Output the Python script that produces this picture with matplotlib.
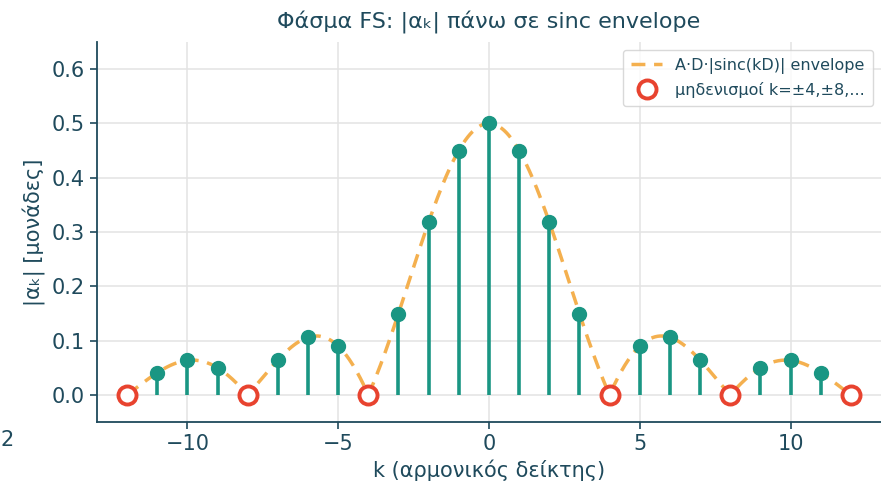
import matplotlib.pyplot as plt
import numpy as np

# Fourier-series line spectrum of a rectangular pulse train
k = np.arange(-11, 12)
ak = [0.041, 0.064, 0.050, 0.0, 0.064, 0.106, 0.090, 0.0, 0.150, 0.318, 0.450,
      0.500,
      0.450, 0.318, 0.150, 0.0, 0.090, 0.106, 0.064, 0.0, 0.050, 0.064, 0.041]
k_zeros = [-12, -8, -4, 4, 8, 12]
A = 2.0
D = 0.25

TXT = '#1f4a5c'
TEAL = '#1a9683'
ORANGE = '#f4b04f'
RED = '#e8432f'

plt.rcParams['font.family'] = ['DejaVu Sans']

fig = plt.figure(figsize=(8.81, 4.88), dpi=100)
ax = fig.add_axes([0.110, 0.135, 0.890, 0.779])

# envelope as stated in the legend
kk = np.linspace(-12, 12, 600)
env = A * D * np.abs(np.sinc(kk * D))
ax.plot(kk, env, '--', color=ORANGE, lw=2.5, dashes=(4, 2.5),
        label='A·D·|sinc(kD)| envelope', zorder=2)

# stems (skip the zero lines)
ks = [kv for kv, v in zip(k, ak) if v > 0]
vs = [v for v in ak if v > 0]
ax.vlines(ks, 0, vs, color=TEAL, lw=2.6, zorder=3)
ax.plot(ks, vs, 'o', color=TEAL, ms=10, zorder=4)

ax.plot(k_zeros, np.zeros(len(k_zeros)), 'o', ms=13, mfc='white', mec=RED,
        mew=2.8, ls='none', label='μηδενισμοί k=±4,±8,...', zorder=5)

ax.set_xlim(-13, 13)
ax.set_ylim(-0.05, 0.65)
ax.set_xticks([-10, -5, 0, 5, 10])
ax.set_yticks(np.arange(0, 0.61, 0.1))
ax.grid(True, color='#e3e3e3', lw=1.1, zorder=0)
ax.set_axisbelow(True)

for s in ['top', 'right']:
    ax.spines[s].set_visible(False)
for s in ['left', 'bottom']:
    ax.spines[s].set_color(TXT)
    ax.spines[s].set_linewidth(1.3)
ax.tick_params(colors=TXT, labelsize=15, width=1.2, length=5)

ax.set_title('Φάσμα FS: |αₖ| πάνω σε sinc envelope', color=TXT, fontsize=16, pad=10)
ax.set_xlabel('k (αρμονικός δείκτης)', color=TXT, fontsize=15)
ax.set_ylabel('|αₖ| [μονάδες]', color=TXT, fontsize=15)

leg = ax.legend(loc='upper right', fontsize=11.5, frameon=True,
                borderpad=0.5, handlelength=2.0, labelspacing=0.5)
for t in leg.get_texts():
    t.set_color(TXT)
leg.get_frame().set_edgecolor('#d0d0d0')

# clipped tick label remnant at far left
fig.text(0.0, 1 - 440 / 488, '2', color=TXT, fontsize=15, ha='left', va='center')

fig.savefig('out.png', dpi=100)
